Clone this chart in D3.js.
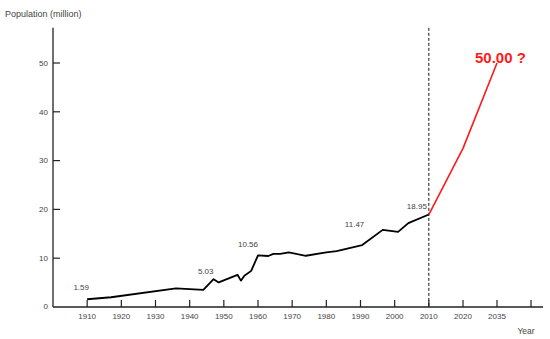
<!DOCTYPE html>
<html>
<head>
<meta charset="utf-8">
<script src="https://cdn.jsdelivr.net/npm/d3@7"></script>
<style>
  html, body { margin: 0; padding: 0; background: #fff; }
  svg { display: block; font-family: "Liberation Sans", Arial, Helvetica, sans-serif; }
</style>
</head>
<body>
<svg id="chart" width="550" height="339"></svg>
<script>
// Recorded population, 1910–2010 (million)
const years = [1910, 1917, 1936, 1944, 1947, 1948.5, 1954, 1955, 1956, 1958, 1960, 1963, 1964.5, 1966.5, 1969, 1974, 1980, 1983, 1990.5, 1996.5, 2001, 2004, 2010];
const population = [1.59, 2.0, 3.8, 3.5, 5.7, 5.03, 6.6, 5.4, 6.4, 7.4, 10.56, 10.45, 10.9, 10.9, 11.2, 10.5, 11.2, 11.47, 12.7, 15.8, 15.4, 17.2, 18.95];

// Projection beyond 2010
const projYears = [2010, 2020, 2035];
const projPopulation = [18.95, 32.5, 50.0];

// Axis ticks
const xTickYears = [1910, 1920, 1930, 1940, 1950, 1960, 1970, 1980, 1990, 2000, 2010, 2020, 2035, 2050];
const xTickLabels = ["1910", "1920", "1930", "1940", "1950", "1960", "1970", "1980", "1990", "2000", "2010", "2020", "2035", ""];
const yTicks = [0, 10, 20, 30, 40, 50];

// Values called out on the chart
const calloutYears = [1910, 1948.5, 1960, 1983, 2010];
const calloutValues = [1.59, 5.03, 10.56, 11.47, 18.95];

const svg = d3.select("#chart");
const textColor = "#444";

// Time axis: even decades up to 2020, then 15-year steps
const x = d3.scaleLinear()
  .domain([1900, 2020, 2035, 2050])
  .range([53, 463, 497, 531]);
const y = d3.scaleLinear().domain([0, 50]).range([307, 63]);

const axisTop = y(57.2);
const axisRight = 543;

// Axis lines
svg.append("line")
  .attr("x1", x(1900)).attr("x2", x(1900))
  .attr("y1", axisTop).attr("y2", y(0))
  .attr("stroke", "#222").attr("stroke-width", 1.3);
svg.append("line")
  .attr("x1", x(1900)).attr("x2", axisRight)
  .attr("y1", y(0)).attr("y2", y(0))
  .attr("stroke", "#222").attr("stroke-width", 1.3);

// Y ticks (pointing inward) and labels
const yg = svg.append("g");
yg.selectAll("line").data(yTicks.filter(d => d > 0)).join("line")
  .attr("x1", x(1900)).attr("x2", x(1900) + 7)
  .attr("y1", d => y(d)).attr("y2", d => y(d))
  .attr("stroke", "#222").attr("stroke-width", 1.2);
yg.selectAll("text").data(yTicks).join("text")
  .attr("x", x(1900) - 5)
  .attr("y", d => y(d) + (d === 0 ? -1 : 0))
  .attr("dy", "0.35em")
  .attr("text-anchor", "end")
  .attr("font-size", 8)
  .attr("fill", textColor)
  .text(d => d);

// X ticks (pointing up) and labels
const xg = svg.append("g");
xg.selectAll("line").data(xTickYears).join("line")
  .attr("x1", d => x(d)).attr("x2", d => x(d))
  .attr("y1", y(0)).attr("y2", y(0) - 7)
  .attr("stroke", "#222").attr("stroke-width", 1.2);
xg.selectAll("text").data(xTickYears).join("text")
  .attr("x", d => x(d))
  .attr("y", y(0) + 12)
  .attr("text-anchor", "middle")
  .attr("font-size", 8)
  .attr("fill", textColor)
  .text((d, i) => xTickLabels[i]);

// Axis titles
svg.append("text")
  .attr("x", 5).attr("y", 17)
  .attr("font-size", 9)
  .attr("fill", textColor)
  .text("Population (million)");
svg.append("text")
  .attr("x", 526).attr("y", 334)
  .attr("text-anchor", "middle")
  .attr("font-size", 8.5)
  .attr("fill", textColor)
  .text("Year");

// Dashed divider at 2010
svg.append("line")
  .attr("x1", x(2010)).attr("x2", x(2010))
  .attr("y1", axisTop).attr("y2", y(0))
  .attr("stroke", "#111").attr("stroke-width", 1)
  .attr("stroke-dasharray", "3,2");

const line = d3.line()
  .x(d => x(d[0]))
  .y(d => y(d[1]));

// Recorded series
svg.append("path")
  .datum(years.map((yr, i) => [yr, population[i]]))
  .attr("d", line)
  .attr("fill", "none")
  .attr("stroke", "#000")
  .attr("stroke-width", 1.8)
  .attr("stroke-linejoin", "round");

// Projected series
svg.append("path")
  .datum(projYears.map((yr, i) => [yr, projPopulation[i]]))
  .attr("d", line)
  .attr("fill", "none")
  .attr("stroke", "#ff1a1a")
  .attr("stroke-width", 1.6)
  .attr("stroke-linejoin", "round");

// Callout labels
const offsets = [[-6, -9], [-13, -8], [-10, -8], [18, -24], [-12, -6]];
svg.append("g").selectAll("text").data(calloutYears).join("text")
  .attr("x", (d, i) => x(d) + offsets[i][0])
  .attr("y", (d, i) => y(calloutValues[i]) + offsets[i][1])
  .attr("text-anchor", "middle")
  .attr("font-size", 8)
  .attr("fill", textColor)
  .text((d, i) => calloutValues[i].toFixed(2));

const last = projPopulation.length - 1;
svg.append("text")
  .attr("x", x(projYears[last]) - 22)
  .attr("y", y(projPopulation[last]))
  .attr("font-size", 15)
  .attr("font-weight", "bold")
  .attr("fill", "#ff1a1a")
  .text(projPopulation[last].toFixed(2) + " ?");
</script>
</body>
</html>
